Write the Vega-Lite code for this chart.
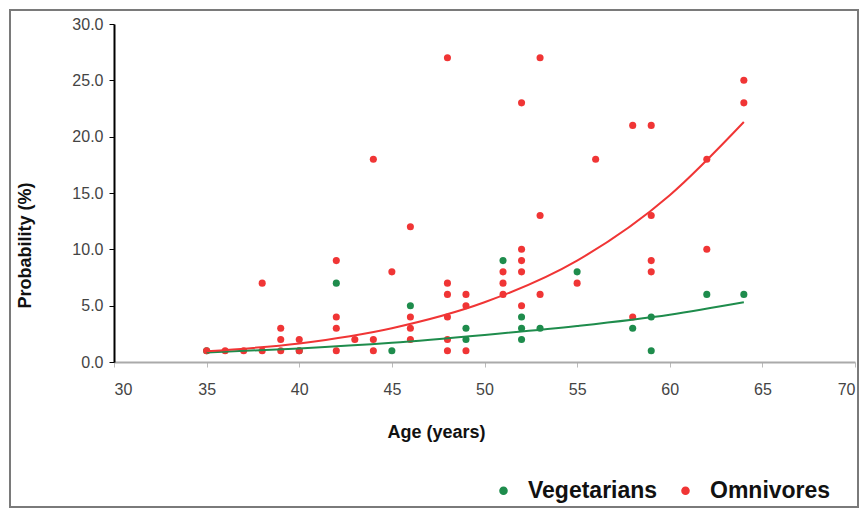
{
  "$schema": "https://vega.github.io/schema/vega-lite/v6.json",
  "width": 848,
  "height": 497,
  "autosize": {"type": "none"},
  "padding": {"left": 10, "top": 10, "right": 2, "bottom": 3},
  "background": "white",
  "config": {
    "view": {"stroke": "#7a7a7a", "strokeWidth": 2},
    "font": "Liberation Sans"
  },
  "datasets": {
    "points": [
      {"age": 35, "p": 1, "group": "Vegetarians"},
      {"age": 40, "p": 1, "group": "Vegetarians"},
      {"age": 42, "p": 7, "group": "Vegetarians"},
      {"age": 45, "p": 1, "group": "Vegetarians"},
      {"age": 46, "p": 5, "group": "Vegetarians"},
      {"age": 49, "p": 2, "group": "Vegetarians"},
      {"age": 49, "p": 3, "group": "Vegetarians"},
      {"age": 51, "p": 9, "group": "Vegetarians"},
      {"age": 52, "p": 2, "group": "Vegetarians"},
      {"age": 52, "p": 3, "group": "Vegetarians"},
      {"age": 52, "p": 4, "group": "Vegetarians"},
      {"age": 53, "p": 3, "group": "Vegetarians"},
      {"age": 55, "p": 8, "group": "Vegetarians"},
      {"age": 58, "p": 3, "group": "Vegetarians"},
      {"age": 59, "p": 1, "group": "Vegetarians"},
      {"age": 59, "p": 4, "group": "Vegetarians"},
      {"age": 62, "p": 6, "group": "Vegetarians"},
      {"age": 64, "p": 6, "group": "Vegetarians"},
      {"age": 35, "p": 1, "group": "Omnivores"},
      {"age": 36, "p": 1, "group": "Omnivores"},
      {"age": 37, "p": 1, "group": "Omnivores"},
      {"age": 38, "p": 1, "group": "Omnivores"},
      {"age": 38, "p": 7, "group": "Omnivores"},
      {"age": 39, "p": 1, "group": "Omnivores"},
      {"age": 39, "p": 2, "group": "Omnivores"},
      {"age": 39, "p": 3, "group": "Omnivores"},
      {"age": 40, "p": 1, "group": "Omnivores"},
      {"age": 40, "p": 2, "group": "Omnivores"},
      {"age": 42, "p": 1, "group": "Omnivores"},
      {"age": 42, "p": 3, "group": "Omnivores"},
      {"age": 42, "p": 4, "group": "Omnivores"},
      {"age": 42, "p": 9, "group": "Omnivores"},
      {"age": 43, "p": 2, "group": "Omnivores"},
      {"age": 44, "p": 1, "group": "Omnivores"},
      {"age": 44, "p": 2, "group": "Omnivores"},
      {"age": 44, "p": 18, "group": "Omnivores"},
      {"age": 45, "p": 8, "group": "Omnivores"},
      {"age": 46, "p": 2, "group": "Omnivores"},
      {"age": 46, "p": 3, "group": "Omnivores"},
      {"age": 46, "p": 4, "group": "Omnivores"},
      {"age": 46, "p": 12, "group": "Omnivores"},
      {"age": 48, "p": 1, "group": "Omnivores"},
      {"age": 48, "p": 2, "group": "Omnivores"},
      {"age": 48, "p": 4, "group": "Omnivores"},
      {"age": 48, "p": 6, "group": "Omnivores"},
      {"age": 48, "p": 7, "group": "Omnivores"},
      {"age": 48, "p": 27, "group": "Omnivores"},
      {"age": 49, "p": 1, "group": "Omnivores"},
      {"age": 49, "p": 5, "group": "Omnivores"},
      {"age": 49, "p": 6, "group": "Omnivores"},
      {"age": 51, "p": 6, "group": "Omnivores"},
      {"age": 51, "p": 7, "group": "Omnivores"},
      {"age": 51, "p": 8, "group": "Omnivores"},
      {"age": 52, "p": 5, "group": "Omnivores"},
      {"age": 52, "p": 8, "group": "Omnivores"},
      {"age": 52, "p": 9, "group": "Omnivores"},
      {"age": 52, "p": 10, "group": "Omnivores"},
      {"age": 52, "p": 23, "group": "Omnivores"},
      {"age": 53, "p": 6, "group": "Omnivores"},
      {"age": 53, "p": 13, "group": "Omnivores"},
      {"age": 53, "p": 27, "group": "Omnivores"},
      {"age": 55, "p": 7, "group": "Omnivores"},
      {"age": 56, "p": 18, "group": "Omnivores"},
      {"age": 58, "p": 4, "group": "Omnivores"},
      {"age": 58, "p": 21, "group": "Omnivores"},
      {"age": 59, "p": 8, "group": "Omnivores"},
      {"age": 59, "p": 9, "group": "Omnivores"},
      {"age": 59, "p": 13, "group": "Omnivores"},
      {"age": 59, "p": 21, "group": "Omnivores"},
      {"age": 62, "p": 10, "group": "Omnivores"},
      {"age": 62, "p": 18, "group": "Omnivores"},
      {"age": 64, "p": 23, "group": "Omnivores"},
      {"age": 64, "p": 25, "group": "Omnivores"}
    ],
    "trend": [
      {"age": 35, "p": 0.85, "group": "Vegetarians"},
      {"age": 40, "p": 1.2, "group": "Vegetarians"},
      {"age": 45, "p": 1.7, "group": "Vegetarians"},
      {"age": 50, "p": 2.4, "group": "Vegetarians"},
      {"age": 55, "p": 3.2, "group": "Vegetarians"},
      {"age": 60, "p": 4.2, "group": "Vegetarians"},
      {"age": 64, "p": 5.3, "group": "Vegetarians"},
      {"age": 35, "p": 0.95, "group": "Omnivores"},
      {"age": 40, "p": 1.65, "group": "Omnivores"},
      {"age": 45, "p": 3.0, "group": "Omnivores"},
      {"age": 50, "p": 5.3, "group": "Omnivores"},
      {"age": 55, "p": 9.0, "group": "Omnivores"},
      {"age": 60, "p": 14.8, "group": "Omnivores"},
      {"age": 64, "p": 21.3, "group": "Omnivores"}
    ]
  },
  "encoding": {
    "x": {
      "field": "age", "type": "quantitative",
      "scale": {"domain": [30, 70], "range": [104, 845], "nice": false, "zero": false},
      "axis": {
        "orient": "bottom", "offset": -145, "values": [30, 35, 40, 45, 50, 55, 60, 65, 70],
        "title": "Age (years)", "titleX": 426, "titleY": 70, "titleBaseline": "middle", "titleAlign": "center",
        "titleFontSize": 18, "titleFontWeight": "bold", "titleColor": "#111",
        "labelFontSize": 16, "labelColor": "#444", "labelPadding": 14,
        "domainColor": "#aaaaaa", "domainWidth": 2, "tickColor": "#bbbbbb", "tickSize": 5,
        "grid": false, "format": "d"
      }
    },
    "y": {
      "field": "p", "type": "quantitative",
      "scale": {"domain": [0, 30], "range": [352, 14], "nice": false, "zero": false},
      "axis": {
        "orient": "left", "offset": -104, "values": [0, 5, 10, 15, 20, 25, 30],
        "title": "Probability (%)", "titleX": -89, "titleY": 235, "titleAngle": -90, "titleBaseline": "middle", "titleAlign": "center",
        "titleFontSize": 18, "titleFontWeight": "bold", "titleColor": "#111",
        "labelFontSize": 16, "labelColor": "#444", "labelPadding": 6, "format": ".1f",
        "domainColor": "#000", "domainWidth": 2, "tickColor": "#000", "tickSize": 5,
        "grid": false
      }
    }
  },
  "layer": [
    {
      "data": {"name": "points"},
      "mark": {"type": "circle", "size": 50, "opacity": 1},
      "encoding": {
        "fill": {
          "field": "group", "type": "nominal",
          "scale": {"domain": ["Vegetarians", "Omnivores"], "range": ["#1e8c4c", "#f03535"]},
          "legend": {
            "title": null, "orient": "none", "direction": "horizontal", "legendX": 482, "legendY": 469,
            "symbolType": "circle", "symbolSize": 50, "labelFontSize": 23, "labelFontWeight": "bold",
            "labelColor": "#111", "labelOffset": 13, "columnPadding": 16, "padding": 0
          }
        }
      }
    },
    {
      "data": {"name": "trend"},
      "mark": {"type": "line", "strokeWidth": 2, "interpolate": "monotone"},
      "encoding": {
        "stroke": {
          "field": "group", "type": "nominal",
          "scale": {"domain": ["Vegetarians", "Omnivores"], "range": ["#1e8c4c", "#f03535"]},
          "legend": null
        }
      }
    }
  ]
}
